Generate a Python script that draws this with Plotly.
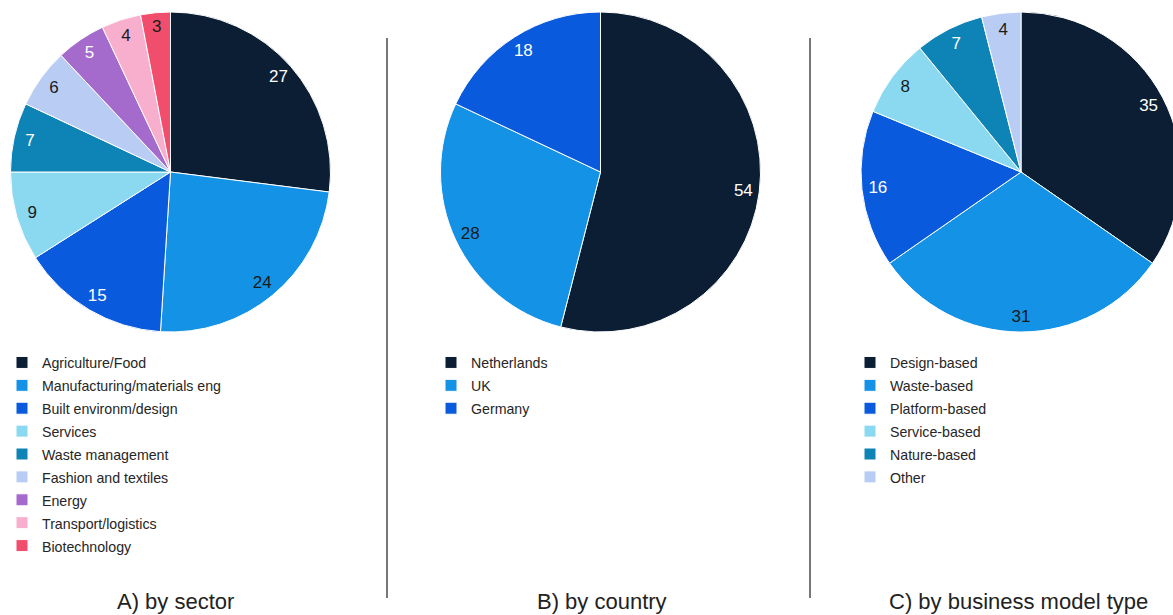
import plotly.graph_objects as go

W, H = 1181, 615   # the figure is a little wider than the 1173px window so the last pie is cut at the edge
OFF = 0

# ---- data ----
sector_labels = ["Agriculture/Food", "Manufacturing/materials eng", "Built environm/design",
                 "Services", "Waste management", "Fashion and textiles", "Energy",
                 "Transport/logistics", "Biotechnology"]
sector_values = [27, 24, 15, 9, 7, 6, 5, 4, 3]

country_labels = ["Netherlands", "UK", "Germany"]
country_values = [54, 28, 18]

model_labels = ["Design-based", "Waste-based", "Platform-based", "Service-based",
                "Nature-based", "Other"]
model_values = [35, 31, 16, 8, 7, 4]

titles = ["A) by sector", "B) by country", "C) by business model type"]

# ---- styles ----
DARK = "#0b1e33"
BLUE = "#1492e6"
ROYAL = "#0a5ade"
CYAN = "#8bd9f1"
TEAL = "#0e83b6"
LAV = "#b9cdf4"
PURP = "#a46bcd"
PINK = "#f8afcd"
RED = "#f04e6c"

sector_colors = [DARK, BLUE, ROYAL, CYAN, TEAL, LAV, PURP, PINK, RED]
country_colors = [DARK, BLUE, ROYAL]
model_colors = [DARK, BLUE, ROYAL, CYAN, TEAL, LAV]

WHITE_TXT = "#ffffff"
DARK_TXT = "#1a1a1a"
light = {BLUE, CYAN, LAV, PINK, RED}


def txtcolors(cols):
    return [DARK_TXT if c in light else WHITE_TXT for c in cols]


def px(vx):
    return (vx - OFF) / W


def py(vy):
    return (H - (vy - OFF)) / H


def dom(cx, cy, r):
    return dict(x=[max(px(cx - r), 0.0), min(px(cx + r), 1.0)],
                y=[max(py(cy + r), 0.0), min(py(cy - r), 1.0)])


FONT = "Liberation Sans, Arial, sans-serif"

panels = [
    (sector_labels, sector_values, sector_colors, dom(170.5, 172, 160), "legend"),
    (country_labels, country_values, country_colors, dom(600.5, 172, 160), "legend2"),
    (model_labels, model_values, model_colors, dom(1021, 172, 160), "legend3"),
]

fig = go.Figure()
for labels, values, colors, d, lg in panels:
    leg_labels = ['<span style="font-size:14.2px">%s</span>' % l for l in labels]
    fig.add_trace(go.Pie(
        labels=leg_labels, values=values, domain=d, sort=False, direction="clockwise",
        rotation=0, marker=dict(colors=colors, line=dict(color="white", width=1)),
        textinfo="none", hoverinfo="value", legend=lg,
    ))
    # transparent ring used only to place the value labels near the rim
    fig.add_trace(go.Pie(
        labels=labels, values=values, domain=d, sort=False, direction="clockwise",
        rotation=0, hole=0.8,
        marker=dict(colors=["rgba(0,0,0,0)"] * len(values), line=dict(width=0)),
        textinfo="value", textposition="inside", insidetextorientation="horizontal",
        textfont=dict(family=FONT, size=17, color=txtcolors(colors)),
        showlegend=False, hoverinfo="skip",
    ))

legend_common = dict(font=dict(family=FONT, size=15.3, color="#262626"),
                     bgcolor="rgba(0,0,0,0)", xanchor="left", yanchor="top",
                     orientation="v", itemclick=False, itemdoubleclick=False)

fig.update_layout(
    width=W, height=H,
    margin=dict(l=0, r=0, t=0, b=0),
    paper_bgcolor="white", plot_bgcolor="white",
    showlegend=True,
    legend=dict(x=px(2), y=py(346), **legend_common),
    legend2=dict(x=px(431), y=py(346), **legend_common),
    legend3=dict(x=px(850), y=py(346), **legend_common),
)

for xc, t in zip([175, 602, 1018], titles):
    fig.add_annotation(x=px(xc), y=py(601), xref="paper", yref="paper",
                       text=t, showarrow=False, xanchor="center", yanchor="middle",
                       font=dict(family=FONT, size=22, color="#222222"))

for xs in [387, 810]:
    fig.add_shape(type="line", xref="paper", yref="paper",
                  x0=px(xs), x1=px(xs), y0=py(598), y1=py(38),
                  line=dict(color="#4a4a4a", width=1.5))

fig.write_html("out.html", config={"displayModeBar": False},
               post_script="document.body.style.margin='0';document.body.style.overflow='hidden';")
